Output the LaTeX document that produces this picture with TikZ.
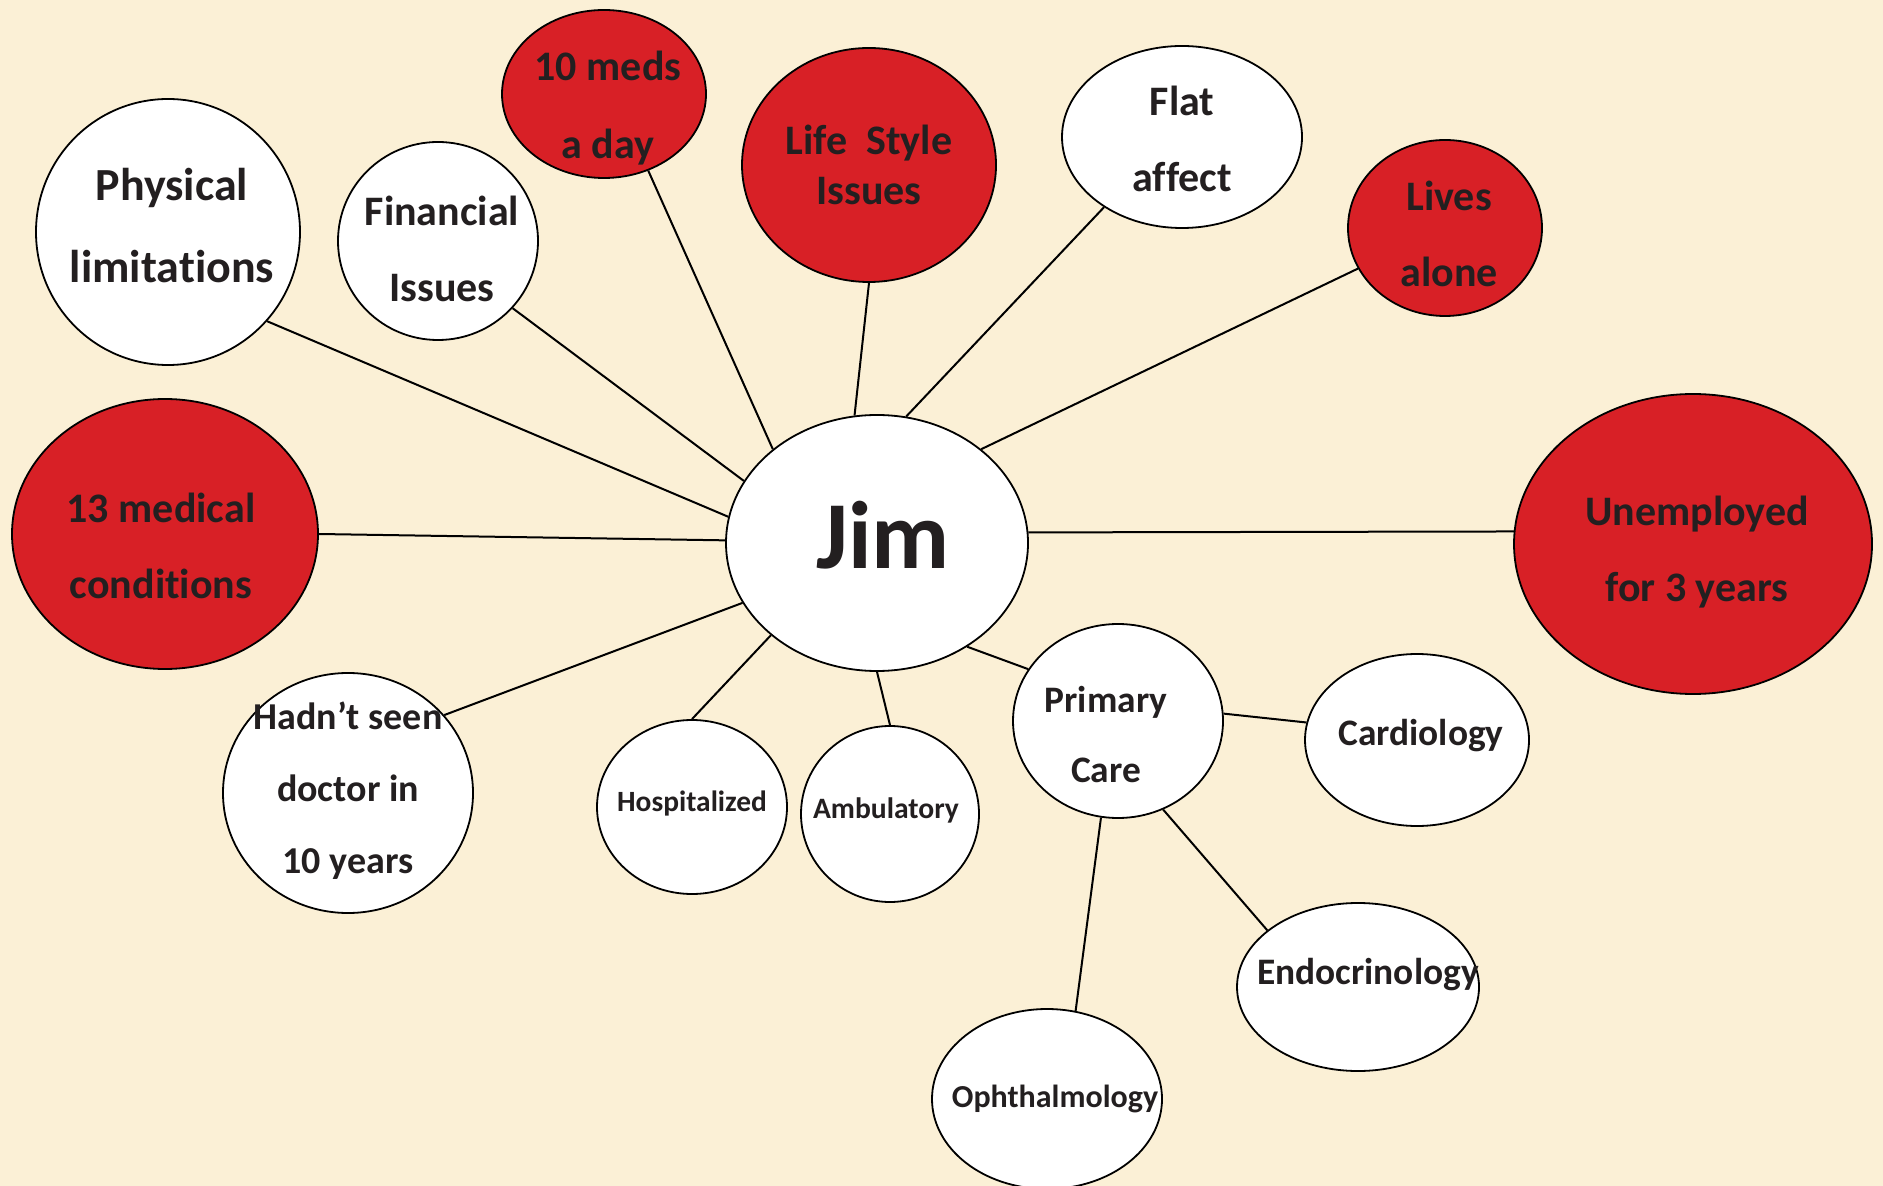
\documentclass[tikz,border=0pt]{standalone}
\usepackage{fontspec}
\setmainfont{Carlito}[Ligatures=NoCommon]
\usetikzlibrary{shapes.geometric}
\definecolor{paper}{RGB}{251,240,214}
\definecolor{alarm}{RGB}{216,32,38}
\definecolor{ink}{RGB}{35,31,32}

\begin{document}
\begin{tikzpicture}[
        %one unit is one pixel of the slide, y runs downwards
        x=0.5pt, y=-0.5pt,
        bubble/.style={ellipse, draw=black, line width=0.9pt, fill=white, inner sep=0pt},
        hot/.style={bubble, fill=alarm},
        txt/.style 2 args={align=center, inner sep=0pt, text=ink, font=\bfseries\fontsize{#1}{#2}\selectfont},
        link/.style={line width=1pt}
     ]
    % the slide
    \useasboundingbox (0,0) rectangle (1883,1186);
    \clip (0,0) rectangle (1883,1186);
    \fill[paper] (0,0) rectangle (1883,1186);

    % the centre
    \node[bubble, minimum width=151pt, minimum height=128pt,
        label={[txt={48}{50}, xshift=3pt, yshift=4pt]center:Jim}] (jim) at (877,543) {};

    % upper ring
    \node[bubble, minimum width=132pt, minimum height=133pt,
        label={[txt={23}{41}, xshift=2pt, yshift=3pt]center:{Physical\\limitations}}] (phys) at (168,232) {};
    \node[bubble, minimum width=100pt, minimum height=99pt,
        label={[txt={21}{38}, xshift=2pt, yshift=-4pt]center:{Financial\\Issues}}] (fin) at (438,241) {};
    \node[hot, minimum width=102pt, minimum height=84pt,
        label={[txt={21}{39}, xshift=2pt, yshift=-7pt]center:{10 meds\\a day}}] (meds) at (604,94) {};
    \node[hot, minimum width=127pt, minimum height=117pt,
        label={[txt={21}{25}]center:{Life\ \ Style\\Issues}}] (life) at (869,165) {};
    \node[bubble, minimum width=120pt, minimum height=91pt,
        label={[txt={21}{38}, yshift=-1pt]center:{Flat\\affect}}] (flat) at (1182,137) {};
    \node[hot, minimum width=97pt, minimum height=88pt,
        label={[txt={21}{38}, xshift=2pt, yshift=-3pt]center:{Lives\\alone}}] (lives) at (1445,228) {};

    % left and right
    \node[hot, minimum width=153pt, minimum height=135pt,
        label={[txt={21}{38}, xshift=-2pt, yshift=-6pt]center:{13 medical\\conditions}}] (cond) at (165,534) {};
    \node[hot, minimum width=179pt, minimum height=150pt,
        label={[txt={21}{38}, xshift=2pt, yshift=-4pt]center:{Unemployed\\for 3 years}}] (unemp) at (1693,544) {};

    % lower ring
    \node[bubble, minimum width=125pt, minimum height=120pt,
        label={[txt={19}{36}, yshift=1pt]center:{Hadn’t seen\\doctor in\\10 years}}] (doctor) at (348,793) {};
    \node[bubble, minimum width=95pt, minimum height=87pt,
        label={[txt={14.7}{18}, yshift=2pt]center:Hospitalized}] (hosp) at (692,807) {};
    \node[bubble, minimum width=89pt, minimum height=88pt,
        label={[txt={14.8}{18}, xshift=-2pt, yshift=2pt]center:Ambulatory}] (amb) at (890,814) {};
    \node[bubble, minimum width=105pt, minimum height=97pt,
        label={[txt={18.7}{35}, xshift=-6pt, yshift=-7pt]center:{Primary\\Care}}] (prim) at (1118,721) {};

    % the specialists
    \node[bubble, minimum width=112pt, minimum height=86pt,
        label={[txt={18.7}{22}, xshift=2pt, yshift=2pt]center:Cardiology}] (card) at (1417,740) {};
    \node[bubble, minimum width=121pt, minimum height=84pt,
        label={[txt={18.7}{22}, xshift=5pt, yshift=6pt]center:Endocrinology}] (endo) at (1358,987) {};
    \node[bubble, minimum width=115pt, minimum height=90pt,
        label={[txt={16}{20}, xshift=4pt]center:Ophthalmology}] (oph) at (1047,1099) {};

    % spokes from Jim
    \draw[link] (jim.170) -- (phys.-42);
    \draw[link] (jim.155) -- (fin.-42);
    \draw[link] (jim.138) -- (meds.-60);
    \draw[link] (jim.100) -- (life.-90);
    \draw[link] (jim.77) -- (flat.-138);
    \draw[link] (jim.42) -- (lives.205);
    \draw[link] (jim.4) -- (unemp.176);
    \draw[link] (jim.179) -- (cond.0);
    \draw[link] (jim.204) -- (doctor.39);
    \draw[link] (jim.221) -- (hosp.90);
    \draw[link] (jim.-90) -- (amb.90);
    \draw[link] (jim.-49) -- (prim.150);
    % spokes from primary care
    \draw[link] (prim.4) -- (card.171);
    \draw[link] (prim.-63) -- (endo.148);
    \draw[link] (prim.-100) -- (oph.72);
\end{tikzpicture}
\end{document}
